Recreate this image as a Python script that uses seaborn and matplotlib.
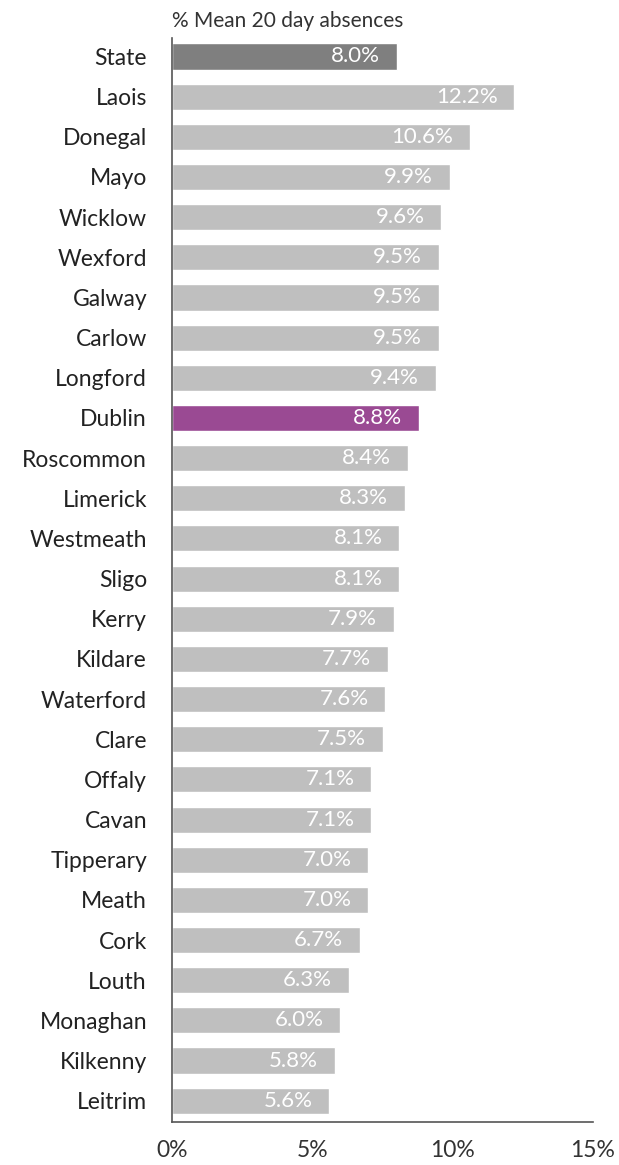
import pandas as pd
import seaborn as sns
import matplotlib.pyplot as plt
from matplotlib.ticker import FuncFormatter

# Daten
counties = ["State", "Laois", "Donegal", "Mayo", "Wicklow", "Wexford", "Galway",
            "Carlow", "Longford", "Dublin", "Roscommon", "Limerick", "Westmeath",
            "Sligo", "Kerry", "Kildare", "Waterford", "Clare", "Offaly", "Cavan",
            "Tipperary", "Meath", "Cork", "Louth", "Monaghan", "Kilkenny", "Leitrim"]
absences = [8.0, 12.2, 10.6, 9.9, 9.6, 9.5, 9.5, 9.5, 9.4, 8.8, 8.4, 8.3, 8.1,
            8.1, 7.9, 7.7, 7.6, 7.5, 7.1, 7.1, 7.0, 7.0, 6.7, 6.3, 6.0, 5.8, 5.6]
x_ticks = [0, 5, 10, 15]

df = pd.DataFrame({"county": counties, "value": absences})

farben = {c: "#BFBFBF" for c in counties}
farben["State"] = "#7F7F7F"
farben["Dublin"] = "#9A4A93"

sns.set_theme(style="white")
plt.rcParams["font.family"] = ["Lato", "DejaVu Sans"]

fig = plt.figure(figsize=(6.19, 11.65), dpi=100)
ax = fig.add_axes([172 / 619, 1 - 1122 / 1165, (593 - 172) / 619, (1122 - 38) / 1165])

sns.barplot(data=df, x="value", y="county", hue="county", palette=farben,
            order=counties, legend=False, width=0.65, saturation=1, ax=ax)

# Werte in die Balken schreiben
for i, v in enumerate(absences):
    ax.text(v - 0.6, i, f"{v:.1f}%", ha="right", va="center",
            color="white", fontsize=16)

ax.set_xlim(0, 15)
ax.set_ylim(len(counties) - 0.47, -0.46)
ax.set_xticks(x_ticks)
ax.xaxis.set_major_formatter(FuncFormatter(lambda x, p: f"{x:.0f}%"))
ax.set_xlabel("")
ax.set_ylabel("")
ax.tick_params(axis="x", length=0, pad=13, labelsize=16.5, colors="#333333")
ax.tick_params(axis="y", length=0, pad=18, labelsize=16.5, colors="#222222")

for s in ["top", "right"]:
    ax.spines[s].set_visible(False)
for s in ["left", "bottom"]:
    ax.spines[s].set_color("#555555")
    ax.spines[s].set_linewidth(1.2)

fig.text(172 / 619, 1 - 21 / 1165, "% Mean 20 day absences", ha="left",
         va="center", fontsize=15, color="#333333")

fig.savefig("out.png", dpi=100)
plt.close(fig)
